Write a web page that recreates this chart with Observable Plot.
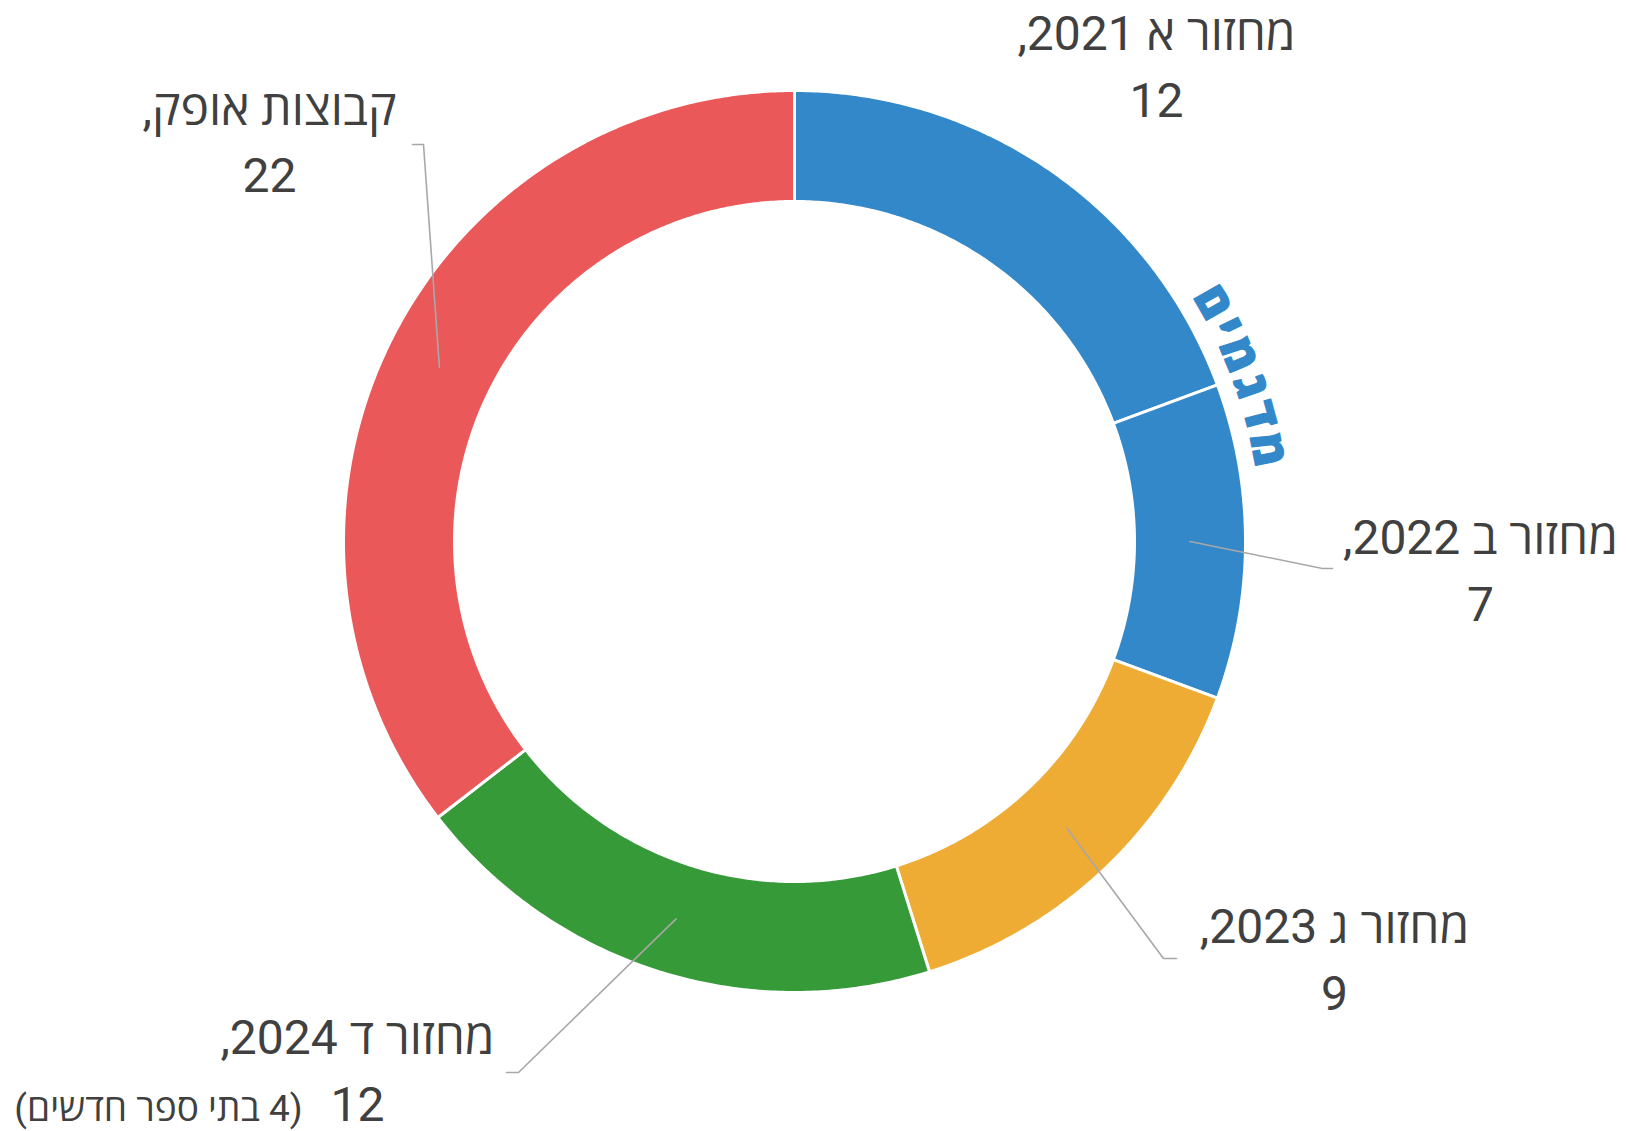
<!DOCTYPE html>
<html>
<head>
<meta charset="utf-8">
<script src="https://cdn.jsdelivr.net/npm/d3@7"></script>
<script src="https://cdn.jsdelivr.net/npm/@observablehq/plot@0.6"></script>
<style>
  html, body { margin: 0; padding: 0; background: #ffffff; }
  #chart svg { display: block; }
</style>
</head>
<body>
<div id="chart"></div>
<script>
// ---------- data ----------
const categories = ["מחזור א 2021", "מחזור ב 2022", "מחזור ג 2023", "מחזור ד 2024", "קבוצות אופק"];
const values = [12, 7, 9, 12, 22];
const sliceColors = ["#3288c9", "#3288c9", "#eeac34", "#379a39", "#ea5859"];
const groupLabel = "מדגמים";
const noteText = "(4 בתי ספר חדשים)";

// ---------- layout (pixels, relative to donut centre) ----------
const W = 1626, H = 1131, CX = 794, CY = 541;
const R_OUT = 451, R_IN = 340, R_MID = 395.5;
const FONT = "Roboto, 'Open Sans', 'Noto Sans Hebrew', 'DejaVu Sans', sans-serif";
const TEXT_COLOR = "#404040";
const LABEL_SIZE = 48, LINE_GAP = 67;
// label anchor (centre x, baseline of first line) per slice
const labelPos = [[362, -492], [686, 12], [540, 401], [-437, 512], [-525, -417]];
// leader elbow and end per slice (null = no leader)
const leaderPts = [null, [[528, 27], [538, 27]], [[369, 417], [382, 417]], [[-276, 531], [-288, 531]], [[-371, -397], [-382, -397]]];
const notePos = [-636, 579], NOTE_SIZE = 37;
const ARC_FONT = 47, ARC_R = 467, ARC_COLOR = "#3288c9", ARC_SPACING = 5;

// ---------- derived geometry ----------
const total = d3.sum(values);
const cum = d3.cumsum(values);
const start = values.map((v, i) => (cum[i] - v) / total * 2 * Math.PI);
const end = values.map((v, i) => cum[i] / total * 2 * Math.PI);
const pt = (r, a) => [r * Math.sin(a), -r * Math.cos(a)];

const slicePts = [];
values.forEach((v, i) => {
  const n = Math.max(4, Math.ceil((end[i] - start[i]) * 180 / Math.PI * 2));
  for (let k = 0; k <= n; k++) {
    const a = start[i] + (end[i] - start[i]) * k / n;
    const [x, y] = pt(R_OUT, a);
    slicePts.push({key: i, x, y, color: sliceColors[i]});
  }
  for (let k = n; k >= 0; k--) {
    const a = start[i] + (end[i] - start[i]) * k / n;
    const [x, y] = pt(R_IN, a);
    slicePts.push({key: i, x, y, color: sliceColors[i]});
  }
});

const leaderData = [];
leaderPts.forEach((lp, i) => {
  if (!lp) return;
  const mid = (start[i] + end[i]) / 2;
  const [x0, y0] = pt(R_MID, mid);
  leaderData.push({key: i, x: x0, y: y0});
  lp.forEach(([x, y]) => leaderData.push({key: i, x, y}));
});

const labels1 = categories.map((c, i) => ({x: labelPos[i][0], y: labelPos[i][1], text: c + ","}));
const labels2 = values.map((v, i) => ({x: labelPos[i][0], y: labelPos[i][1] + LINE_GAP, text: String(v)}));

// curved group label along the outer edge at the boundary of the two blue slices
const ctx = document.createElement("canvas").getContext("2d");
ctx.font = `900 ${ARC_FONT}px ${FONT}`;
const letters = Array.from(groupLabel).reverse(); // visual left-to-right order
const lw = letters.map(c => ctx.measureText(c).width + ARC_SPACING);
const totalW = d3.sum(lw);
const centreA = end[0];
let acc = 0;
const arcLetters = letters.map((c, i) => {
  const a = centreA + (acc + lw[i] / 2 - totalW / 2) / ARC_R;
  acc += lw[i];
  const [x, y] = pt(ARC_R, a);
  return {x, y, text: c, rotate: a * 180 / Math.PI};
});

const chart = Plot.plot({
  width: W,
  height: H,
  margin: 0,
  x: {type: "linear", domain: [-CX, W - CX], range: [0, W], axis: null},
  y: {type: "linear", domain: [-CY, H - CY], range: [0, H], axis: null},
  color: {type: "identity"},
  style: {fontFamily: FONT, direction: "rtl", background: "#ffffff", overflow: "visible"},
  marks: [
    Plot.line(slicePts, {x: "x", y: "y", z: "key", fill: "color", stroke: "#ffffff", strokeWidth: 3, curve: "linear-closed"}),
    Plot.line(leaderData, {x: "x", y: "y", z: "key", stroke: "#a8a8a8", strokeWidth: 1.6}),
    Plot.text(labels1, {x: "x", y: "y", text: "text", fontSize: LABEL_SIZE, fill: TEXT_COLOR, textAnchor: "middle", lineAnchor: "bottom"}),
    Plot.text(labels2, {x: "x", y: "y", text: "text", fontSize: LABEL_SIZE, fill: TEXT_COLOR, textAnchor: "middle", lineAnchor: "bottom"}),
    Plot.text([{x: notePos[0], y: notePos[1], text: noteText}], {x: "x", y: "y", text: "text", fontSize: NOTE_SIZE, fill: TEXT_COLOR, textAnchor: "middle", lineAnchor: "bottom"}),
    Plot.text(arcLetters, {x: "x", y: "y", text: "text", rotate: "rotate", fontSize: ARC_FONT, fontWeight: 900, fill: ARC_COLOR, stroke: ARC_COLOR, strokeWidth: 1.2, textAnchor: "middle", lineAnchor: "bottom"})
  ]
});

document.getElementById("chart").appendChild(chart);
</script>
</body>
</html>
